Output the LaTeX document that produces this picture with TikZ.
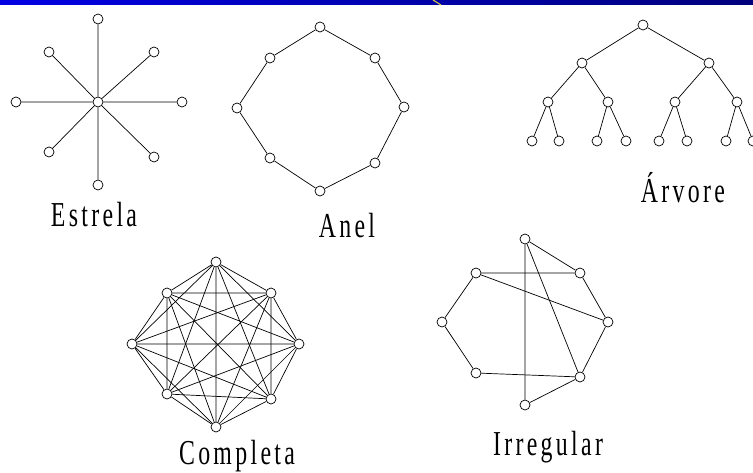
\documentclass[tikz,border=0pt]{standalone}
\usepackage{fontspec}
\setmainfont{Liberation Serif}
\usepackage{graphicx}
\usepackage{tikz}
\definecolor{barblue}{RGB}{0,0,228}
\definecolor{bardark}{RGB}{0,0,125}
\definecolor{markyellow}{RGB}{225,215,70}
\tikzset{
  vtx/.style={circle, draw=black, fill=white, inner sep=0pt,
    minimum size=10pt, line width=0.7pt},
  link/.style={line width=0.7pt, color=black},
  lbl/.style={anchor=base, inner sep=0pt, font=\fontsize{35}{35}\selectfont}
}
\newcommand{\spacedlabel}[1]{\scalebox{0.68}[1]{\addfontfeature{LetterSpace=14}#1}}

\begin{document}
\begin{tikzpicture}[x=1pt, y=-1pt]
  \useasboundingbox (0,0) rectangle (753,473);
  % Title bar
  \shade[left color=barblue, right color=bardark] (0,0) rectangle (753,5);
  \draw[markyellow, line width=1pt] (433,0) -- (441,5);

  % Star
  \node[vtx] (e0) at (98,102) {};
  \node[vtx] (e1) at (98,19) {};
  \node[vtx] (e2) at (154,52) {};
  \node[vtx] (e3) at (182,102) {};
  \node[vtx] (e4) at (154,157) {};
  \node[vtx] (e5) at (98,185) {};
  \node[vtx] (e6) at (49,152) {};
  \node[vtx] (e7) at (16,102) {};
  \node[vtx] (e8) at (49,52) {};
  \draw[link] (e0) -- (e1) (e0) -- (e2) (e0) -- (e3) (e0) -- (e4);
  \draw[link] (e0) -- (e5) (e0) -- (e6) (e0) -- (e7) (e0) -- (e8);
  \node[lbl] (estrela) at (94,227) {\spacedlabel{Estrela}};

  % Ring
  \node[vtx] (a1) at (320,27) {};
  \node[vtx] (a2) at (375,58) {};
  \node[vtx] (a3) at (404,107) {};
  \node[vtx] (a4) at (375,163) {};
  \node[vtx] (a5) at (320,191) {};
  \node[vtx] (a6) at (270,158) {};
  \node[vtx] (a7) at (237,108) {};
  \node[vtx] (a8) at (270,58) {};
  \draw[link] (a1) -- (a2) -- (a3) -- (a4) -- (a5) -- (a6) -- (a7) -- (a8) -- (a1);
  \node[lbl] (anel) at (347,238) {\spacedlabel{Anel}};

  % Tree
  \node[vtx] (t) at (643,25) {};
  \node[vtx] (t1) at (582,63) {};
  \node[vtx] (t2) at (709,63) {};
  \node[vtx] (t11) at (548,102) {};
  \node[vtx] (t12) at (608,102) {};
  \node[vtx] (t21) at (675,102) {};
  \node[vtx] (t22) at (737,102) {};
  \node[vtx] (t111) at (532,141) {};
  \node[vtx] (t112) at (559,141) {};
  \node[vtx] (t121) at (597,141) {};
  \node[vtx] (t122) at (626,141) {};
  \node[vtx] (t211) at (659,141) {};
  \node[vtx] (t212) at (687,141) {};
  \node[vtx] (t221) at (726,141) {};
  \node[vtx] (t222) at (753,141) {};
  \draw[link] (t) -- (t1) (t) -- (t2);
  \draw[link] (t1) -- (t11) (t1) -- (t12) (t2) -- (t21) (t2) -- (t22);
  \draw[link] (t11) -- (t111) (t11) -- (t112) (t12) -- (t121) (t12) -- (t122);
  \draw[link] (t21) -- (t211) (t21) -- (t212) (t22) -- (t221) (t22) -- (t222);
  \node[lbl] (arvore) at (683,203) {\spacedlabel{Árvore}};

  % Complete
  \node[vtx] (c1) at (216,262) {};
  \node[vtx] (c2) at (167,293) {};
  \node[vtx] (c3) at (271,293) {};
  \node[vtx] (c4) at (132,344) {};
  \node[vtx] (c5) at (299,344) {};
  \node[vtx] (c6) at (167,394) {};
  \node[vtx] (c7) at (271,399) {};
  \node[vtx] (c8) at (216,427) {};
  \draw[link] (c1) -- (c2) (c1) -- (c3) (c1) -- (c4) (c1) -- (c5) (c1) -- (c6) (c1) -- (c7) (c1) -- (c8);
  \draw[link] (c2) -- (c3) (c2) -- (c4) (c2) -- (c5) (c2) -- (c6) (c2) -- (c7) (c2) -- (c8);
  \draw[link] (c3) -- (c4) (c3) -- (c5) (c3) -- (c6) (c3) -- (c7) (c3) -- (c8);
  \draw[link] (c4) -- (c5) (c4) -- (c6) (c4) -- (c7) (c4) -- (c8);
  \draw[link] (c5) -- (c6) (c5) -- (c7) (c5) -- (c8);
  \draw[link] (c6) -- (c7) (c6) -- (c8);
  \draw[link] (c7) -- (c8);
  \node[lbl] (completa) at (237,464) {\spacedlabel{Completa}};

  % Irregular
  \node[vtx] (i1) at (525,239) {};
  \node[vtx] (i2) at (476,273) {};
  \node[vtx] (i3) at (580,273) {};
  \node[vtx] (i4) at (442,322) {};
  \node[vtx] (i5) at (608,322) {};
  \node[vtx] (i6) at (476,373) {};
  \node[vtx] (i7) at (580,377) {};
  \node[vtx] (i8) at (525,405) {};
  \draw[link] (i1) -- (i3) (i1) -- (i8) (i1) -- (i7);
  \draw[link] (i2) -- (i3) (i2) -- (i5) (i2) -- (i4);
  \draw[link] (i4) -- (i6) -- (i7) (i3) -- (i5) -- (i7) -- (i8);
  \node[lbl] (irregular) at (548,455) {\spacedlabel{Irregular}};
\end{tikzpicture}
\end{document}
